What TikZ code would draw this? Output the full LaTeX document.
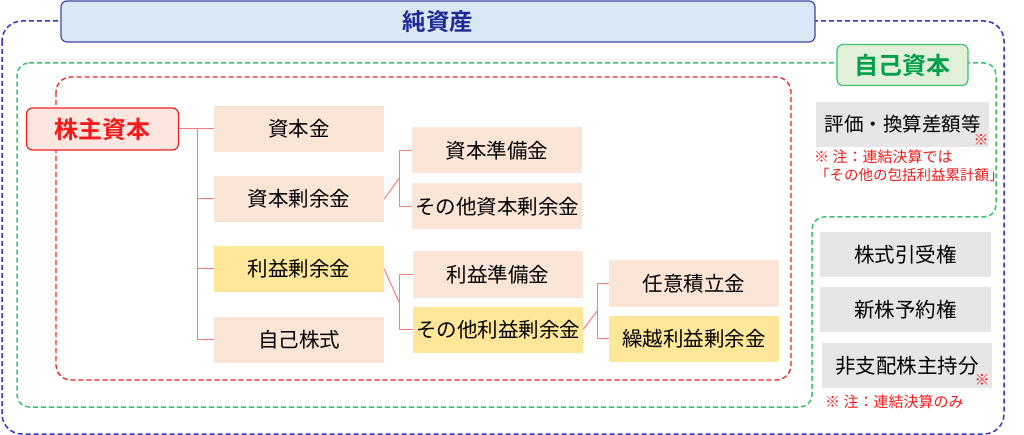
\documentclass[tikz,border=0pt]{standalone}
\usepackage{fontspec}
\setmainfont{Noto Sans CJK JP}
\newfontfamily\jpb{Noto Sans CJK JP}[BoldFont={* Bold}]
\definecolor{navyt}{HTML}{1F2A96}
\definecolor{titlefill}{HTML}{DAE8F5}
\definecolor{titledraw}{HTML}{3F48A8}
\definecolor{bluedash}{HTML}{3535C8}
\definecolor{greendash}{HTML}{3CC070}
\definecolor{greenfill}{HTML}{E2F0DA}
\definecolor{greentext}{HTML}{00A04A}
\definecolor{reddash}{HTML}{F02020}
\definecolor{peach}{HTML}{FBE5D6}
\definecolor{yell}{HTML}{FFE699}
\definecolor{grayfill}{HTML}{E6E6E6}
\definecolor{conn}{HTML}{FF7A7A}
\definecolor{redt}{HTML}{F51A1A}
\definecolor{rootfill}{HTML}{FDE6E0}
\tikzset{
  pbox/.style={fill=peach, minimum width=170pt, minimum height=46pt, inner sep=0pt, font=\fontsize{20.5}{24}\selectfont},
  ybox/.style={pbox, fill=yell},
  gbox/.style={fill=grayfill, minimum width=172pt, minimum height=45pt, inner sep=0pt, font=\fontsize{20.5}{24}\selectfont},
  cn/.style={draw=conn, line width=1pt},
  dsh/.style={dash pattern=on 5pt off 3pt, line width=1.5pt},
  note/.style={text=redt, inner sep=0pt, anchor=west, font=\fontsize{15}{18}\selectfont},
  star/.style={text=redt, inner sep=0pt, font=\jpb\fontsize{15}{17}\selectfont\bfseries}
}
\begin{document}
\begin{tikzpicture}[x=1pt,y=-1pt]
\useasboundingbox (0,0) rectangle (1024,435);
% outer blue dashed
\draw[dsh, draw=bluedash, rounded corners=20pt] (2,21) rectangle (1004,434);
% title
\node[draw=titledraw, fill=titlefill, line width=1.2pt, rounded corners=6pt, minimum width=754pt, minimum height=41pt, inner sep=0pt, text=navyt, font=\jpb\fontsize{23.5}{27}\selectfont\bfseries] (title) at (438,21.5) {純資産};
% green dashed
\draw[dsh, draw=greendash, rounded corners=12pt] (17,63) -- (996,63) -- (996,217) -- (812,217) -- (812,407) -- (17,407) -- cycle;
\node[draw=greendash, fill=greenfill, line width=1.2pt, rounded corners=6pt, minimum width=131pt, minimum height=41pt, inner sep=0pt, text=greentext, font=\jpb\fontsize{24}{27}\selectfont\bfseries] (jiko) at (902.5,65) {自己資本};
% red dashed
\draw[dsh, draw=reddash, line width=1.3pt, rounded corners=15pt] (56,77) rectangle (791,380);
% root
\node[draw=reddash, fill=rootfill, line width=1.2pt, rounded corners=6pt, minimum width=152pt, minimum height=42pt, inner sep=0pt, text=redt, font=\jpb\fontsize{24}{27}\selectfont\bfseries] (root) at (102.5,129) {株主資本};
% level 1
\node[pbox] (shihonkin) at (299,129) {資本金};
\node[pbox] (shihonjoyo) at (299,199) {資本剰余金};
\node[ybox] (riekijoyo) at (299,269) {利益剰余金};
\node[pbox] (jikokabu) at (299,339.5) {自己株式};
% level 2
\node[pbox] (shihonjunbi) at (497,150.5) {資本準備金};
\node[pbox] (sonotashihon) at (497,206.5) {その他資本剰余金};
\node[pbox] (riekijunbi) at (498,274.5) {利益準備金};
\node[ybox] (sonotarieki) at (498,329.5) {その他利益剰余金};
% level 3
\node[pbox] (nini) at (694,283.5) {任意積立金};
\node[ybox] (kurikoshi) at (694,338.5) {繰越利益剰余金};
% right column
\node[gbox, minimum width=173pt, font=\fontsize{19.5}{23}\selectfont] (hyoka) at (902.5,124.5) {評価・換算差額等};
\node[star] (s1) at (981,140) {※};
\node[note] (n1) at (814,157) {※ 注：連結決算では};
\node[note, font=\fontsize{14.5}{17}\selectfont] (n2) at (815,174.5) {「その他の包括利益累計額」};
\node[gbox, minimum width=171pt] (hikiuke) at (905.5,254.5) {株式引受権};
\node[gbox, minimum width=171pt] (yoyaku) at (905.5,309.5) {新株予約権};
\node[gbox, minimum width=170pt] (hishihai) at (907,365.5) {非支配株主持分};
\node[star] (s2) at (982,380) {※};
\node[note] (n3) at (825,402) {※ 注：連結決算のみ};
% connectors
\coordinate (t1) at (197,129);
\coordinate (t2) at (197,339.5);
\draw[cn] (root.east) -- (shihonkin.west);
\draw[cn] (t1) -- (t2) -- (jikokabu.west);
\draw[cn] (t1 |- shihonjoyo) -- (shihonjoyo.west);
\draw[cn] (t1 |- riekijoyo) -- (riekijoyo.west);
% capital surplus bracket
\coordinate (b1) at (399,150.5);
\coordinate (b2) at (399,206.5);
\draw[cn] (shihonjunbi.west) -- (b1) -- (b2) -- (sonotashihon.west);
\draw[cn] (shihonjoyo.east) -- (399,178.5);
% retained earnings bracket
\coordinate (c1) at (399,274.5);
\coordinate (c2) at (399,329.5);
\draw[cn] (riekijunbi.west) -- (c1) -- (c2) -- (sonotarieki.west);
\draw[cn] (riekijoyo.east) -- (399,302);
% other retained bracket
\coordinate (d1) at (597,283.5);
\coordinate (d2) at (597,338.5);
\draw[cn] (nini.west) -- (d1) -- (d2) -- (kurikoshi.west);
\draw[cn] (sonotarieki.east) -- (597,311);
\end{tikzpicture}
\end{document}
